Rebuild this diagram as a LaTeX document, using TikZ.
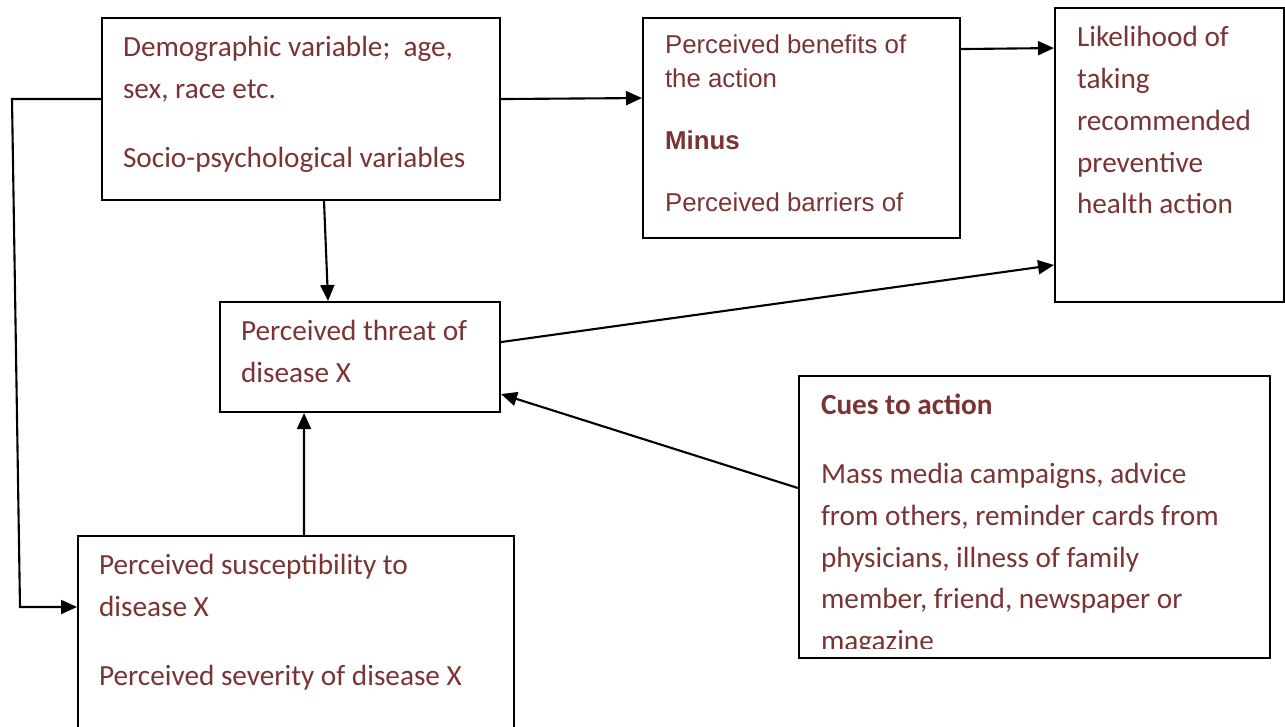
\documentclass[tikz,border=0pt]{standalone}
\usepackage{fontspec}
\setmainfont{Carlito}
\newfontfamily\arialfont{Liberation Sans}
\usetikzlibrary{arrows.meta}
\definecolor{txtred}{HTML}{7A3434}

\begin{document}
\begin{tikzpicture}[x=0.02cm, y=-0.02cm, line width=1.2pt,
        arr/.style={-{Triangle[length=0.32cm, width=0.28cm]}},
        txt/.style={anchor=north west, inner sep=0, align=left, text=txtred,
            font=\fontsize{16.65}{23.8}\selectfont},
        arialtxt/.style={txt, font=\arialfont\fontsize{14.7}{19.8}\selectfont}]
        \clip (0,0) rectangle (1285,727);
        \fill [white] (0,0) rectangle (1285,727);
        % boxes
        \begin{scope}[every node/.style={draw, anchor=north west, inner sep=0}]
            \node [minimum width=7.96cm, minimum height=3.64cm] (demo) at (101,17) {};
            \node [minimum width=6.34cm, minimum height=4.4cm] (benefit) at (642,17) {};
            \node [minimum width=4.58cm, minimum height=5.88cm] (likely) at (1054,7) {};
            \node [minimum width=5.6cm, minimum height=2.2cm] (threat) at (219,301) {};
            \node [minimum width=8.72cm, minimum height=4.2cm] (suscept) at (77,535) {};
            \node [minimum width=9.42cm, minimum height=5.64cm] (cues) at (798,375) {};
        \end{scope}
        % texts
        \node [txt] (demotxt) at (122,26.4) {\strut Demographic variable;\ \ age,\\sex, race etc.\\[15.3pt]Socio-psychological variables};
        \node [arialtxt] (benefittxt) at (664,27.6) {\strut Perceived benefits of\\the action\\[15.3pt]\textbf{Minus}\\[15.3pt]Perceived barriers of};
        \node [txt] (likelytxt) at (1076,16.4) {\strut Likelihood of\\taking\\recommended\\preventive\\health action};
        \node [txt] (threattxt) at (240,310.4) {\strut Perceived threat of\\disease X};
        \node [txt] (suscepttxt) at (98,544.4) {\strut Perceived susceptibility to\\disease X\\[15.3pt]Perceived severity of disease X};
        \begin{scope}
            \clip (cues.north west) rectangle ([yshift=0.22cm]cues.south east);
            \node [txt] (cuestxt) at (820,384.4) {\strut\textbf{Cues to action}\\[15.3pt]Mass media campaigns, advice\\from others, reminder cards from\\physicians, illness of family\\member, friend, newspaper or\\magazine};
        \end{scope}
        % connectors
        \coordinate (leftTop) at (12,99);
        \coordinate (leftBot) at (20,607);
        \draw [arr] ([yshift=0.2cm]demo.west) -- (leftTop) -- (leftBot) -- (leftBot -| suscept.west);
        \draw [arr] ([yshift=0.2cm]demo.east) -- ([yshift=0.6cm]benefit.west);
        \draw [arr] ([xshift=0.46cm]demo.south) -- ([xshift=-0.64cm]threat.north);
        \draw [arr] ([yshift=1.58cm]benefit.east) -- ([yshift=2.14cm]likely.west);
        \draw [arr] ([yshift=0.3cm]threat.east) -- ([yshift=-2.2cm]likely.west);
        \draw [arr] ([yshift=0.58cm]cues.west) -- ([yshift=-0.74cm]threat.east);
        \draw [arr] ([xshift=0.16cm]suscept.north) -- ([xshift=-1.12cm]threat.south);
    \end{tikzpicture}
\end{document}
